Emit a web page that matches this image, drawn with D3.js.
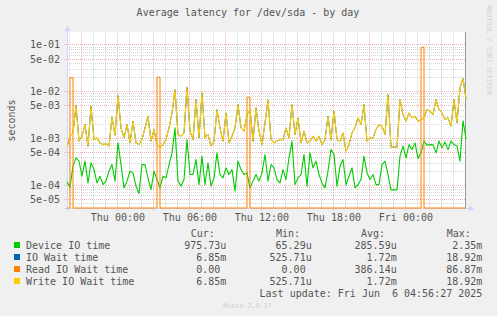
<!DOCTYPE html>
<html><head><meta charset="utf-8">
<script src="https://cdn.jsdelivr.net/npm/d3@7"></script>
<style>
html,body{margin:0;padding:0;background:#F0F0F0;}
svg{display:block;}
text{font-family:"DejaVu Sans Mono",monospace;}
</style></head><body>
<svg id="c" width="497" height="316"></svg>
<script>
// ---------- data (values in microseconds, one sample per 15 minutes) ----------
const startTime = Date.UTC(2025, 5, 4, 19, 48);
const stepMinutes = 15;

const deviceIoUs = [
  116, 89.3, 251, 377, 321, 153, 321, 110, 295, 212,
  110, 153, 101, 120, 196, 271, 120, 789, 271, 86.3,
  120, 196, 180, 93.8, 65.3, 271, 271, 141, 79.4, 196,
  130, 86.3, 153, 141, 271, 483, 1650, 120, 93.8, 130,
  928, 166, 166, 347, 101, 410, 101, 295, 93.8, 141,
  483, 166, 141, 231, 166, 212, 73.4, 321, 212, 166,
  180, 86.3, 120, 166, 120, 180, 444, 120, 271, 231,
  130, 110, 212, 130, 377, 858, 101, 141, 166, 444,
  93.8, 483, 231, 321, 166, 110, 86.3, 196, 567, 444,
  93.8, 251, 347, 101, 153, 231, 86.3, 101, 130, 410,
  180, 130, 166, 101, 101, 271, 321, 166, 78, 78,
  78, 410, 671, 377, 725, 567, 789, 364, 483, 858,
  704, 725, 725, 483, 858, 617, 828, 567, 858, 725,
  671, 321, 2350, 975.73
];

const writeWaitUs = [
  648, 1100, 1290, 5030, 858, 1100, 1940, 671, 4790, 928,
  1010, 789, 725, 751, 671, 2790, 1150, 8150, 1650, 1010,
  1940, 789, 2290, 789, 725, 928, 1650, 2930, 858, 1520,
  725, 617, 725, 928, 1650, 3440, 10800, 1190, 1100, 1290,
  12200, 1400, 928, 6630, 1010, 9220, 1010, 1190, 671, 858,
  4050, 1650, 858, 3440, 789, 1100, 1650, 5180, 1650, 1400,
  3170, 4050, 858, 4410, 1400, 725, 2110, 6530, 928, 789,
  858, 928, 928, 1650, 1010, 5180, 1190, 2700, 789, 1400,
  789, 858, 1100, 858, 1100, 725, 928, 2930, 928, 3750,
  928, 858, 1290, 525.71, 725, 1290, 1650, 2700, 1940, 5180,
  858, 1010, 1010, 1520, 1940, 1790, 1190, 8480, 638, 638,
  638, 6630, 3170, 2290, 3440, 2700, 2930, 2290, 2480, 2700,
  4050, 3750, 3170, 6630, 4050, 3440, 2480, 2700, 1790, 6630,
  2110, 12000, 18920, 6850
];

// IO wait time is identical to write IO wait time in this period
const ioWaitUs = writeWaitUs.slice();

const readWaitUs = [
  0, 19500, 0, 0, 0, 0, 0, 0, 0, 0,
  0, 0, 0, 0, 0, 0, 0, 0, 0, 0,
  0, 0, 0, 0, 0, 0, 0, 0, 0, 0,
  20000, 0, 0, 0, 0, 0, 0, 0, 0, 0,
  0, 0, 0, 0, 0, 0, 0, 0, 0, 0,
  0, 0, 0, 0, 0, 0, 0, 0, 0, 0,
  7500, 0, 0, 0, 0, 0, 0, 0, 0, 0,
  0, 0, 0, 0, 0, 0, 0, 0, 0, 0,
  0, 0, 0, 0, 0, 0, 0, 0, 0, 0,
  0, 0, 0, 0, 0, 0, 0, 0, 0, 0,
  0, 0, 0, 0, 0, 0, 0, 0, 0, 0,
  0, 0, 0, 0, 0, 0, 0, 0, 86870, 0,
  0, 0, 0, 0, 0, 0, 0, 0, 0, 0,
  0, 0, 0, 0
];

const seriesNames = ["Device IO time", "IO Wait time", "Read IO Wait time", "Write IO Wait time"];
const seriesColors = ["#00CC00", "#0066B3", "#FF8000", "#FFCC00"];
const curLabels = ["975.73u", "6.85m", "0.00 ", "6.85m"];
const minLabels = ["65.29u", "525.71u", "0.00 ", "525.71u"];
const avgLabels = ["285.59u", "1.72m", "386.14u", "1.72m"];
const maxLabels = ["2.35m", "18.92m", "86.87m", "18.92m"];
const yTickValues = [1e-1, 5e-2, 1e-2, 5e-3, 1e-3, 5e-4, 1e-4, 5e-5];
const yDomain = [3.2e-5, 0.185];
const titleText = "Average latency for /dev/sda - by day";
const yAxisTitle = "seconds";
const lastUpdate = "Last update: Fri Jun  6 04:56:27 2025";

// ---------- layout ----------
const L = 67, R = 466, T = 32, B = 208;
const CW = 6.02; // mono char width at 10px
const svg = d3.select("#c");
const fontCol = "#555";

svg.append("rect").attr("width", 497).attr("height", 316).attr("fill", "#F0F0F0");
svg.append("rect").attr("x", L).attr("y", T).attr("width", R - L).attr("height", B - T).attr("fill", "#FFFFFF");

const times = deviceIoUs.map((d, i) => new Date(startTime + i * stepMinutes * 60000));
const x = d3.scaleUtc().domain([times[0], times[times.length - 1]]).range([L, R]);
const y = d3.scaleLog().domain(yDomain).range([B, T]);

// ---------- grid ----------
const majorCol = "#F2B6B6", minorCol = "#D4D4D4";
const grid = svg.append("g");
for (let e = -5; e <= -1; e++) {
  for (let m = 1; m <= 9; m++) {
    const v = m * Math.pow(10, e);
    if (v < yDomain[0] || v > yDomain[1]) continue;
    const major = (m === 1 || m === 5);
    const yy = Math.round(y(v)) + 0.5;
    grid.append("line").attr("x1", major ? L - 3 : L).attr("x2", R).attr("y1", yy).attr("y2", yy)
      .attr("stroke", major ? majorCol : minorCol).attr("stroke-dasharray", "1,1");
  }
}
d3.utcHour.range(x.domain()[0], x.domain()[1]).forEach(t => {
  const xx = Math.round(x(t)) + 0.5;
  const major = t.getUTCHours() % 3 === 0;
  grid.append("line").attr("x1", xx).attr("x2", xx).attr("y1", T).attr("y2", major ? B + 3 : B)
    .attr("stroke", major ? majorCol : minorCol).attr("stroke-dasharray", "1,1");
});

// ---------- axes ----------
const axisCol = "#CFD6F8";
svg.append("line").attr("x1", L + 0.5).attr("x2", L + 0.5).attr("y1", T - 2).attr("y2", B + 3).attr("stroke", axisCol);
svg.append("path").attr("d", `M${L - 2.5},${T - 1}L${L + 3.5},${T - 1}L${L + 0.5},${T - 6}Z`).attr("fill", axisCol);
svg.append("line").attr("x1", L - 3).attr("x2", R + 3).attr("y1", B + 0.5).attr("y2", B + 0.5).attr("stroke", axisCol);
svg.append("path").attr("d", `M${R + 3},${B - 2.5}L${R + 3},${B + 3.5}L${R + 8},${B + 0.5}Z`).attr("fill", axisCol);
svg.append("line").attr("x1", R - 0.5).attr("x2", R - 0.5).attr("y1", T).attr("y2", B).attr("stroke", "#999999");

const fmtY = v => {
  const e = Math.floor(Math.log10(v) + 1e-9);
  const m = Math.round(v / Math.pow(10, e));
  return m + "e" + (e < 0 ? "-" : "+") + String(Math.abs(e)).padStart(2, "0");
};
const yAxis = d3.axisLeft(y).tickValues(yTickValues).tickFormat(fmtY).tickSize(0).tickPadding(0);
const gy = svg.append("g").attr("transform", `translate(${L - 7},0)`).call(yAxis);
gy.select(".domain").remove();
gy.selectAll("text").attr("font-size", 10).attr("fill", fontCol)
  .attr("font-family", "DejaVu Sans Mono").attr("dy", "0.35em");

const xAxis = d3.axisBottom(x).ticks(d3.utcHour.every(6)).tickFormat(d3.utcFormat("%a %H:%M")).tickSize(0).tickPadding(0);
const gx = svg.append("g").attr("transform", `translate(0,${B + 13})`).call(xAxis);
gx.select(".domain").remove();
gx.selectAll("text").attr("font-size", 10).attr("fill", fontCol).attr("font-family", "DejaVu Sans Mono").attr("dy", 0);

// ---------- series ----------
svg.append("clipPath").attr("id", "clip").append("rect").attr("x", L).attr("y", T - 1).attr("width", R - L + 1).attr("height", B - T + 2);
const plot = svg.append("g").attr("clip-path", "url(#clip)");
const yv = us => { const v = us * 1e-6; return v <= yDomain[0] ? B : y(v); };
const lineGen = d3.line().x((d, i) => x(times[i])).y(d => yv(d));
const stepGen = d3.line().x((d, i) => x(times[i])).y(d => yv(d)).curve(d3.curveStepAfter);
const allSeries = [deviceIoUs, ioWaitUs, readWaitUs, writeWaitUs];
const widths = [1.1, 1, 1, 1.15];
allSeries.forEach((s, k) => {
  plot.append("path").datum(s).attr("d", k === 2 ? stepGen : lineGen)
    .attr("fill", "none").attr("stroke", seriesColors[k]).attr("stroke-width", widths[k])
    .attr("stroke-linejoin", "round");
});

// ---------- titles ----------
svg.append("text").attr("x", 248).attr("y", 15.5).attr("text-anchor", "middle")
  .attr("font-size", 10).attr("fill", fontCol).text(titleText);
svg.append("text").attr("transform", "translate(15,120.5) rotate(-90)").attr("text-anchor", "middle")
  .attr("font-size", 10).attr("fill", fontCol).text(yAxisTitle);
svg.append("text").attr("transform", "translate(486.5,5) rotate(90)").attr("text-anchor", "start")
  .attr("font-size", 6.8).attr("fill", "#D2D2D2").text("RRDTOOL / TOBI OETIKER");

// ---------- legend ----------
const colEnds = [226.3, 311.7, 396.7, 482.3];
const headers = ["Cur:", "Min:", "Avg:", "Max:"];
const cols = [curLabels, minLabels, avgLabels, maxLabels];
const lg = svg.append("g").attr("font-size", 10).attr("fill", fontCol);
headers.forEach((h, c) => {
  lg.append("text").attr("x", colEnds[c] - 2 * CW + 0.5).attr("y", 236.5).attr("text-anchor", "end").text(h);
});
const putEnd = (label, xEnd, yy) => {
  const s = label.replace(/ +$/, "");
  const shift = (label.length - s.length) * CW;
  lg.append("text").attr("x", xEnd - shift).attr("y", yy).attr("text-anchor", "end").text(s);
};
seriesNames.forEach((n, r) => {
  const yy = 248.5 + r * 12;
  svg.append("rect").attr("x", 14).attr("y", yy - 6.5).attr("width", 6).attr("height", 6).attr("fill", seriesColors[r]);
  lg.append("text").attr("x", 26).attr("y", yy).text(n);
  cols.forEach((col, c) => putEnd(col[r], colEnds[c], yy));
});
lg.append("text").attr("x", colEnds[3]).attr("y", 296.5).attr("text-anchor", "end")
  .attr("xml:space", "preserve").style("white-space", "pre").text(lastUpdate);
svg.append("text").attr("x", 247.5).attr("y", 307.5).attr("text-anchor", "middle")
  .attr("font-size", 6.7).attr("fill", "#CFCFCF").text("Munin 2.0.37");
</script>
</body></html>
